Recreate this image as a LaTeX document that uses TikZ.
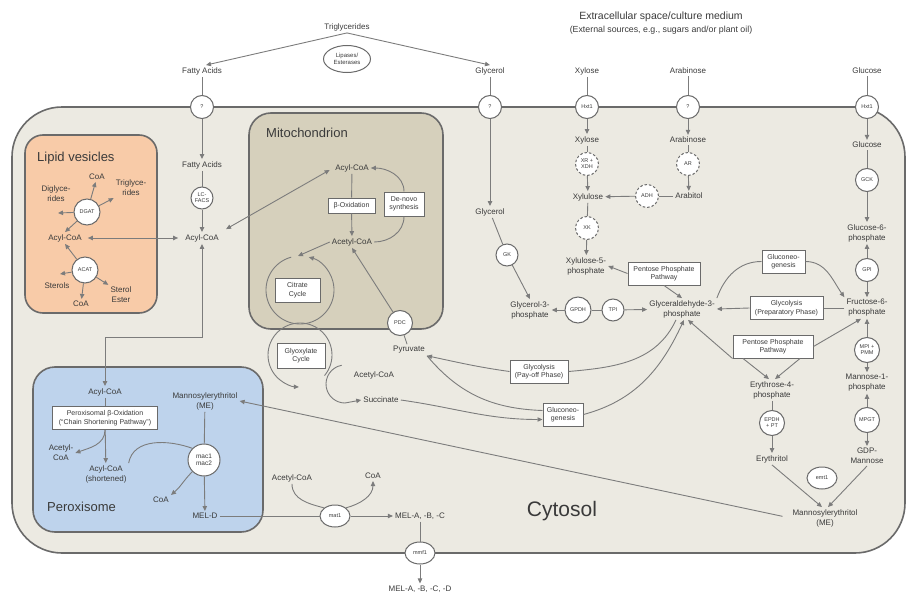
\documentclass[tikz,border=0pt]{standalone}
\usepackage{fontspec}
\setmainfont{Liberation Sans}
\usetikzlibrary{arrows.meta,positioning,calc,shapes.geometric}

\definecolor{cytofill}{HTML}{ECEAE2}
\definecolor{mitofill}{HTML}{D6D0BC}
\definecolor{lipfill}{HTML}{F8CBA8}
\definecolor{perofill}{HTML}{BED3EC}
\definecolor{edgec}{HTML}{6A6A6A}
\definecolor{linec}{HTML}{7C7C7C}
\definecolor{txtc}{HTML}{3A3A3A}

\begin{document}
\begin{tikzpicture}[
  x=1pt, y=1pt,
  >={Triangle[length=5pt,width=4.4pt]},
  lbl/.style={font=\fontsize{8}{10}\selectfont, text=txtc, align=center, inner sep=2pt},
  ttl/.style={font=\fontsize{13}{15}\selectfont, text=txtc, anchor=base west, inner sep=0pt},
  enz/.style={circle, draw=edgec, fill=white, line width=1pt, minimum size=23pt, inner sep=0pt, font=\fontsize{5.5}{6.2}\selectfont, text=txtc, align=center},
  denz/.style={enz, dash pattern=on 2.5pt off 2pt},
  oval/.style={enz, ellipse, minimum width=30pt, minimum height=22pt},
  pbox/.style={draw=edgec, fill=white, line width=1pt, font=\fontsize{7}{8.5}\selectfont, text=txtc, align=center, inner sep=1pt, minimum height=23pt},
  flow/.style={draw=linec, line width=0.9pt},
  comp/.style={draw=edgec, line width=1.6pt, rounded corners=22pt}
]
\useasboundingbox (0,0) rectangle (906,-597);

% ==================== COMPARTMENTS ====================
\draw[comp, fill=cytofill, rounded corners=50pt] (12,-107) rectangle (905,-553);
\draw[comp, fill=lipfill, rounded corners=18pt] (25,-135) rectangle (157,-313);
\draw[comp, fill=mitofill] (249,-113) rectangle (443,-329);
\draw[comp, fill=perofill] (33,-367) rectangle (263,-532);

\node[ttl] (tLip) at (37,-161.5) {Lipid vesicles};
\node[ttl] (tMit) at (266,-137.5) {Mitochondrion};
\node[ttl] (tPer) at (47,-511.5) {Peroxisome};
\node[font=\fontsize{21}{24}\selectfont, text=txtc] (tCyt) at (562,-511) {Cytosol};

\node[font=\fontsize{10.5}{12}\selectfont, text=txtc] (ext) at (661,-17) {Extracellular space/culture medium};
\node[font=\fontsize{8.8}{10}\selectfont, text=txtc] (extSub) at (661,-30) {(External sources, e.g., sugars and/or plant oil)};

% ==================== EXTERNAL SOURCES ====================
\node[lbl] (trig) at (347,-27) {Triglycerides};
\node[oval, minimum width=47pt, minimum height=27pt, font=\fontsize{6}{7}\selectfont] (lip) at (347,-59) {Lipases/\\Esterases};
\node[lbl] (faOut) at (202,-71) {Fatty Acids};
\node[lbl] (glOut) at (490,-71) {Glycerol};
\node[lbl] (xyOut) at (587,-71) {Xylose};
\node[lbl] (arOut) at (688,-71) {Arabinose};
\node[lbl] (guOut) at (867,-71) {Glucose};

% transporters on the membrane
\node[enz] (tFA) at (202,-107) {?};
\node[enz] (tGl) at (490,-107) {?};
\node[enz] (tXy) at (587,-107) {Hxt1};
\node[enz] (tAr) at (688,-107) {?};
\node[enz] (tGu) at (867,-107) {Hxt1};

% ==================== LIPID VESICLES ====================
\node[lbl] (acyL) at (65,-238) {Acyl-CoA};
\node[enz, minimum size=26pt] (dgat) at (87,-212) {DGAT};
\node[lbl] (coaL1) at (97,-177) {CoA};
\node[lbl] (trigL) at (131,-188) {Triglyce-\\rides};
\node[lbl] (diglL) at (56,-194) {Diglyce-\\rides};
\node[enz, minimum size=26pt] (acat) at (85,-270) {ACAT};
\node[lbl] (sterols) at (57,-286) {Sterols};
\node[lbl] (coaL2) at (81,-304) {CoA};
\node[lbl] (sterEst) at (121,-295) {Sterol\\Ester};
\coordinate (diglTip) at (58,-213);
\coordinate (sterTip) at (60,-274);

% ==================== CYTOSOL (LIPIDS) ====================
\node[lbl] (faIn) at (202,-165) {Fatty Acids};
\node[enz, minimum size=22pt] (lcfacs) at (202,-198) {LC-\\FACS};
\node[lbl] (acyC) at (202,-238) {Acyl-CoA};
\coordinate (bend) at (202,-337);

% ==================== MITOCHONDRION ====================
\node[lbl] (acyM) at (352,-168) {Acyl-CoA};
\node[pbox, minimum width=47pt, minimum height=15pt] (bOx) at (351.5,-205.5) {β-Oxidation};
\node[pbox, minimum width=40pt, minimum height=24pt] (deNovo) at (404,-204) {De-novo\\synthesis};
\node[lbl] (acetM) at (352,-242) {Acetyl-CoA};
\node[pbox, minimum width=45pt, minimum height=24pt] (citr) at (297.5,-290) {Citrate\\Cycle};
\node[pbox, minimum width=48pt, minimum height=25pt] (glyox) at (301,-355.5) {Glyoxylate\\Cycle};
\coordinate (citC) at (300,-290);
\coordinate (glxC) at (300,-355);
\coordinate (shC) at (345,-384);
\coordinate (citTop) at (298,-256);
\node[enz, minimum size=25pt] (pdc) at (400,-323) {PDC};
\node[lbl] (pyr) at (409,-350) {Pyruvate};
\node[lbl] (acetG) at (374,-375) {Acetyl-CoA};
\node[lbl] (succ) at (381,-400) {Succinate};

% ==================== SUGARS ====================
\node[lbl] (glIn) at (490,-212) {Glycerol};
\node[enz, minimum size=22pt] (gk) at (507,-255) {GK};
\node[lbl] (g3pGl) at (530,-310) {Glycerol-3-\\phosphate};
\node[enz, minimum size=26pt] (gpdh) at (578,-310) {GPDH};
\node[enz, minimum size=22pt] (tpi) at (613,-310) {TPI};
\node[lbl] (gap) at (682,-309) {Glyceraldehyde-3-\\phosphate};

\node[lbl] (xyIn) at (587,-140) {Xylose};
\node[denz] (xrxdh) at (587,-164) {XR +\\XDH};
\node[lbl] (xylu) at (588,-197) {Xylulose};
\node[denz] (xk) at (587,-228) {XK};
\node[lbl] (xu5p) at (586,-266) {Xylulose-5-\\phosphate};
\node[lbl] (arIn) at (688,-140) {Arabinose};
\node[denz] (ar) at (688,-164) {AR};
\node[lbl] (arbt) at (689,-196) {Arabitol};
\node[denz] (adh) at (647,-196) {ADH};

\node[lbl] (guIn) at (867,-145) {Glucose};
\node[enz] (gck) at (867,-180) {GCK};
\node[lbl] (g6p) at (867,-233) {Glucose-6-\\phosphate};
\node[enz] (gpi) at (867,-270) {GPI};
\node[lbl] (f6p) at (867,-308) {Fructose-6-\\phosphate};
\node[enz, minimum size=25pt] (mpi) at (867,-350) {MPI +\\PMM};
\node[lbl] (m1p) at (867,-383) {Mannose-1-\\phosphate};
\node[enz, minimum size=25pt] (mpgt) at (867,-420) {MPGT};
\node[lbl] (gdpm) at (867,-456) {GDP-\\Mannose};
\node[lbl] (e4p) at (772,-390) {Erythrose-4-\\phosphate};
\node[enz, minimum size=25pt] (epdh) at (772,-423) {EPDH\\+ PT};
\node[lbl] (eryt) at (772,-459) {Erythritol};
\node[oval] (emt) at (822,-478) {emt1};
\node[lbl] (meC) at (825,-518) {Mannosylerythritol\\(ME)};

\node[pbox, minimum width=72pt] (ppp1) at (664,-273.5) {Pentose Phosphate\\Pathway};
\node[pbox, minimum width=43pt] (gng1) at (783.5,-261.5) {Gluconeo-\\genesis};
\node[pbox, minimum width=73pt] (glyP) at (786.5,-308) {Glycolysis\\(Preparatory Phase)};
\node[pbox, minimum width=80pt] (ppp2) at (773,-346.5) {Pentose Phosphate\\Pathway};
\node[pbox, minimum width=58pt] (glyO) at (539,-371.5) {Glycolysis\\(Pay-off Phase)};
\node[pbox, minimum width=40pt] (gng2) at (563,-414.5) {Gluconeo-\\genesis};

% ==================== PEROXISOME ====================
\node[lbl] (acyP) at (105,-392) {Acyl-CoA};
\node[pbox, minimum width=105pt] (pbOx) at (105,-418) {Peroxisomal β-Oxidation\\(“Chain Shortening Pathway”)};
\node[lbl] (acetP) at (61,-453) {Acetyl-\\CoA};
\node[lbl] (acyS) at (106,-474) {Acyl-CoA\\(shortened)};
\node[lbl] (meP) at (205,-401) {Mannosylerythritol\\(ME)};
\node[enz, minimum size=32pt, font=\fontsize{6.5}{7.5}\selectfont] (mac) at (204,-460) {mac1\\mac2};
\node[lbl] (coaP) at (161,-500) {CoA};
\node[lbl] (meld) at (205,-516) {MEL-D};

% ==================== MEL SECRETION ====================
\node[lbl] (acetS) at (292,-478) {Acetyl-CoA};
\node[oval] (mat) at (335,-516) {mat1};
\node[lbl] (coaS) at (373,-476) {CoA};
\node[lbl] (melabc) at (420,-516) {MEL-A, -B, -C};
\node[oval] (mmf) at (420,-553) {mmf1};
\node[lbl] (melabcd) at (420,-589) {MEL-A, -B, -C, -D};

% ==================== CONNECTORS ====================
% uptake
\draw[flow,->] (trig.south) -- ([xshift=4pt]faOut.north);
\draw[flow,->] (trig.south) -- (glOut.north);
\draw[flow] (faOut) -- (tFA);  \draw[flow,->] (tFA) -- (faIn);
\draw[flow] (glOut) -- (tGl);  \draw[flow,->] (tGl) -- (glIn);
\draw[flow] (xyOut) -- (tXy);  \draw[flow,->] (tXy) -- (xyIn);
\draw[flow] (arOut) -- (tAr);  \draw[flow,->] (tAr) -- (arIn);
\draw[flow] (guOut) -- (tGu);  \draw[flow,->] (tGu) -- (guIn);

% lipid vesicles
\draw[flow,->] (dgat) -- (coaL1);
\draw[flow,->] (dgat) -- (trigL.south west);
\draw[flow,->] (dgat) -- (diglTip);
\draw[flow,->] (dgat) -- (acyL.north);
\draw[flow,->] (acat) -- (acyL.south);
\draw[flow,->] (acat) -- (sterTip);
\draw[flow,->] (acat) -- (coaL2);
\draw[flow,->] (acat) -- (sterEst.north west);
\draw[flow,<->, shorten <=4pt, shorten >=5pt] (acyL) -- (acyC);

% fatty acid activation
\draw[flow] (faIn) -- (lcfacs);
\draw[flow,->] (lcfacs) -- (acyC);
\draw[flow,<->, shorten <=6pt, shorten >=4pt] (acyC.north east) -- (acyM.west);
\draw[flow,<->] (acyC.south) -- (bend) -| (acyP.north);

% mitochondrion
\draw[flow] (acyM) -- (bOx);
\draw[flow,->] (bOx) -- (acetM);
\draw[flow] (acetM.east) to[out=0,in=-90] (deNovo.south);
\draw[flow,->] (deNovo.north) to[out=90,in=0] (acyM.east);
\draw[flow,->] (acetM.west) -- (citTop);
\draw[flow,->] (citC) ++(105:34) arc (105:435:34);
\draw[flow,->] (glxC) ++(-40:32) arc (-40:268:32);
\draw[flow,->] (shC) ++(100:19) arc (100:270:19) -- (succ.west);
\draw[flow] (pyr) -- (pdc);
\draw[flow,->] (pdc) -- (acetM.south);

% glycolysis / gluconeogenesis
\draw[flow] ([xshift=-6pt]gap.south) to[out=-115,in=5] (glyO.east);
\draw[flow,->] (glyO.west) to[out=172,in=-12] (pyr.south east);
\draw[flow] (pyr.south east) to[out=-50,in=178] ([yshift=4pt]gng2.west);
\draw[flow,->] (succ.east) to[out=-8,in=180] ([yshift=-5pt]gng2.west);
\draw[flow,->] (gng2.east) to[out=15,in=-115] ([xshift=2pt]gap.south);
\draw[flow] (gap.north east) to[out=70,in=180] (gng1.west);
\draw[flow,->] (gng1.east) to[out=0,in=125] (f6p.north west);
\draw[flow] (f6p.west) -- (glyP.east);
\draw[flow,->] (glyP.west) -- (gap.east);
\draw[flow,->] (ppp1.west) -- (xu5p.east);
\draw[flow,->] (ppp1.south) -- (gap.north);
\draw[flow,->] (ppp2.south west) -- ([xshift=6pt]gap.south);
\draw[flow,->] (ppp2.east) -- ([xshift=-6pt]f6p.south);
\draw[flow,->] ([xshift=-30pt]ppp2.south) -- ([xshift=-3pt]e4p.north);
\draw[flow,->] ([xshift=27pt]ppp2.south) -- ([xshift=3pt]e4p.north);

% glycerol
\draw[flow] (glIn) -- (gk);
\draw[flow,->] (gk) -- (g3pGl.north);
\draw[flow,->] (gpdh) -- (g3pGl);
\draw[flow] (gpdh) -- (tpi);
\draw[flow,->] (tpi) -- (gap);

% xylose / arabinose
\draw[flow] (xyIn) -- (xrxdh);
\draw[flow,->] (xrxdh) -- (xylu);
\draw[flow] (xylu) -- (xk);
\draw[flow,->] (xk) -- (xu5p);
\draw[flow] (arIn) -- (ar);
\draw[flow,->] (ar) -- (arbt);
\draw[flow] (arbt) -- (adh);
\draw[flow,->] (adh) -- (xylu);

% glucose / mannose
\draw[flow] (guIn) -- (gck);
\draw[flow,->] (gck) -- (g6p);
\draw[flow,->] (gpi) -- (g6p);
\draw[flow,->] (gpi) -- (f6p);
\draw[flow,->] (mpi) -- (f6p);
\draw[flow,->] (mpi) -- (m1p);
\draw[flow,->] (mpgt) -- (m1p);
\draw[flow,->] (mpgt) -- (gdpm);
\draw[flow] (e4p) -- (epdh);
\draw[flow,->] (epdh) -- (eryt);
\draw[flow,->] (eryt.south) -- ([xshift=-3pt]meC.north);
\draw[flow,->] (gdpm.south) -- ([xshift=3pt]meC.north);
\draw[flow,->, shorten <=8pt] (meC.west) -- (meP.east);

% peroxisome
\draw[flow] (acyP) -- (pbOx);
\draw[flow,->] (pbOx) -- (acyS);
\draw[flow,->] (pbOx.south) to[out=-90,in=20] (acetP.east);
\draw[flow] (acyS.north east) to[out=80,in=160] (mac.north west);
\draw[flow] (meP) -- (mac);
\draw[flow,->] (mac) -- (meld);
\draw[flow,->] (mac.south west) to[out=-135,in=40] (coaP.north east);

% MEL formation and export
\draw[flow] (meld) -- (mat);
\draw[flow,->] (mat) -- (melabc);
\draw[flow] (acetS.south) to[out=-90,in=165] (mat.north west);
\draw[flow,->] (mat.north east) to[out=15,in=-90] (coaS.south);
\draw[flow] (melabc) -- (mmf);
\draw[flow,->] (mmf) -- (melabcd);

\end{tikzpicture}
\end{document}
